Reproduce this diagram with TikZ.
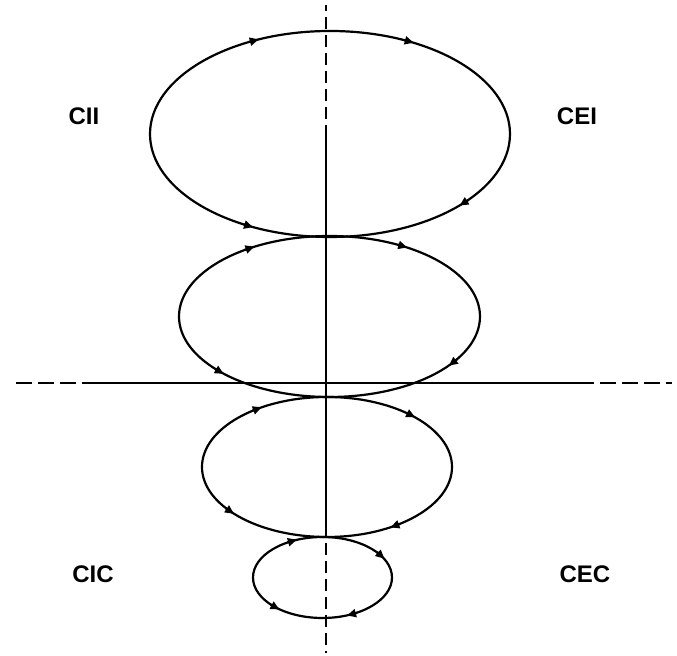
\documentclass[tikz,border=0pt]{standalone}
\usepackage{fontspec}
\setmainfont{Liberation Sans}
\usetikzlibrary{arrows.meta}
\tikzset{
  >={Triangle[length=4.5pt,width=4pt]},
  axis/.style={line width=1.3pt},
  vext/.style={line width=1.3pt, dash pattern=on 6pt off 3pt, dash phase=6pt},
  hext/.style={line width=1.3pt, dash pattern=on 8pt off 3pt, dash phase=8pt},
  orbit/.style={line width=1.1pt},
  tip/.style={->, line width=1.1pt},
  quad/.style={font=\bfseries\fontsize{12}{14}\selectfont, inner sep=0pt},
}

\begin{document}
\begin{tikzpicture}[x=0.5pt,y=-0.5pt]
  \useasboundingbox (0,0) rectangle (677,656);
  % axes, solid part and dashed ends
  \coordinate (vtop) at (326,125);
  \coordinate (vbot) at (326,537);
  \coordinate (vtopend) at (326,5);
  \coordinate (vbotend) at (326,653);
  \coordinate (hleft) at (82,383);
  \coordinate (hright) at (594,383);
  \coordinate (hleftend) at (12,383);
  \coordinate (hrightend) at (672,383);
  \draw[axis] (vtop) -- (vbot);
  \draw[axis] (hleft) -- (hright);
  \draw[vext] (vtop) -- (vtopend);
  \draw[vext] (vbot) -- (vbotend);
  \draw[hext] (hleft) -- (hleftend);
  \draw[hext] (hright) -- (hrightend);
  % orbits
  \foreach \cx/\cy/\rx/\ry in {330/134/180/103,329.5/316.5/150.5/80.5,
                               327/467/125/70,322.5/577.5/69.5/40.5}{
    \draw[orbit] (\cx,\cy) ellipse [x radius=\rx, y radius=\ry];}
  % direction tips (angle on the orbit, 1 = clockwise, -1 = against)
  \foreach \cx/\cy/\rx/\ry/\t/\s in {
      330/134/180/103/245/1,330/134/180/103/296/1,
      330/134/180/103/42/1,330/134/180/103/117/-1,
      329.5/316.5/150.5/80.5/238/1,329.5/316.5/150.5/80.5/299/1,
      329.5/316.5/150.5/80.5/35/1,329.5/316.5/150.5/80.5/137/-1,
      327/467/125/70/236/1,327/467/125/70/312/1,
      327/467/125/70/57/1,327/467/125/70/141/-1,
      322.5/577.5/69.5/40.5/244/1,322.5/577.5/69.5/40.5/327/1,
      322.5/577.5/69.5/40.5/65/1,322.5/577.5/69.5/40.5/133/-1}{
    \pgfmathsetmacro\tang{atan2(\s*\ry*cos(\t),\s*(-\rx)*sin(\t))}
    \draw[tip] ({\cx+\rx*cos(\t)},{\cy+\ry*sin(\t)}) ++(\tang+180:5) -- ++(\tang:10);}
  % quadrant labels
  \node[quad] (cii) at (84,116) {CII};
  \node[quad] (cei) at (577,116) {CEI};
  \node[quad] (cic) at (93,574) {CIC};
  \node[quad] (cec) at (585,574) {CEC};
\end{tikzpicture}
\end{document}
